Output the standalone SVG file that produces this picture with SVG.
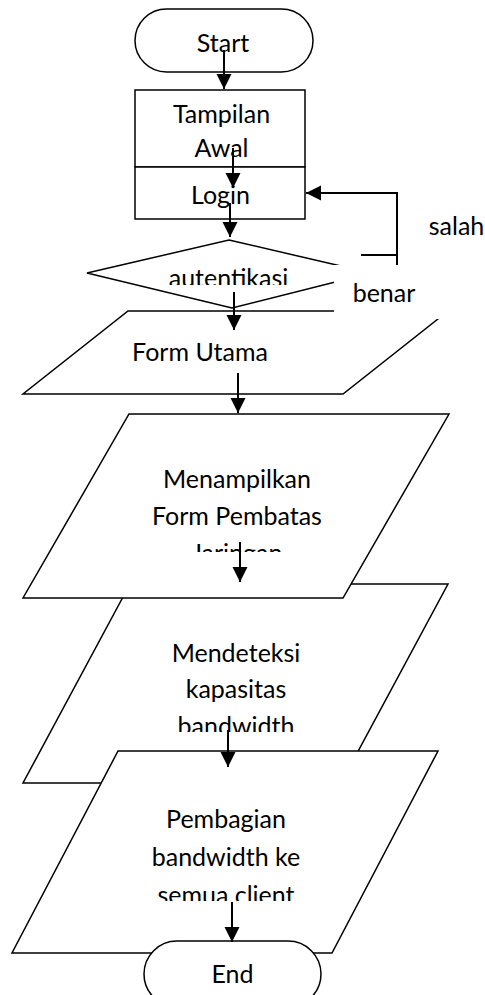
<svg xmlns="http://www.w3.org/2000/svg" width="485" height="995" viewBox="0 0 485 995">
<style>
.s{fill:#fff;stroke:#000;stroke-width:1.5;stroke-linejoin:miter}
.t{font-family:Lato,"Open Sans",sans-serif;font-size:25px;fill:#000;text-anchor:middle}
.c{fill:none;stroke:#000;stroke-width:2}
</style>
<defs>
<marker id="ah" markerUnits="userSpaceOnUse" markerWidth="16" markerHeight="16" refX="15" refY="7.5" orient="auto">
<path d="M0,0 L15,7.5 L0,15 z" fill="#000"/>
</marker>
<clipPath id="cl-aut"><rect x="87" y="240" width="284" height="45"/></clipPath>
<clipPath id="cl-men"><rect x="23" y="414" width="426" height="138"/></clipPath>
<clipPath id="cl-det"><rect x="23" y="584" width="426" height="148"/></clipPath>
<clipPath id="cl-pem"><rect x="12" y="751" width="426" height="150"/></clipPath>
</defs>
<g id="node-mendeteksi">
<path class="s" d="M130,584 L448,584 L341,783 L23,783 Z"/>
<g clip-path="url(#cl-det)">
<text class="t" x="236" y="662">Mendeteksi</text>
<text class="t" x="236" y="698">kapasitas</text>
<text class="t" x="236" y="735">bandwidth</text>
</g>
</g>
<g id="node-menampilkan">
<path class="s" d="M129,414 L449,414 L343,598 L23,598 Z"/>
<g clip-path="url(#cl-men)">
<text class="t" x="237" y="488">Menampilkan</text>
<text class="t" x="237" y="525">Form Pembatas</text>
<text class="t" x="237" y="562">Jaringan</text>
</g>
</g>
<g id="node-pembagian">
<path class="s" d="M118,751 L438,751 L332,953 L12,953 Z"/>
<g clip-path="url(#cl-pem)">
<text class="t" x="226" y="828">Pembagian</text>
<text class="t" x="226" y="866">bandwidth ke</text>
<text class="t" x="226" y="904">semua client</text>
</g>
</g>
<g id="node-end">
<rect class="s" x="144" y="941" width="177" height="66" rx="33" ry="33"/>
<text class="t" x="232.5" y="983">End</text>
</g>
<g id="node-start">
<rect class="s" x="135" y="9" width="178" height="63" rx="31.5" ry="31.5"/>
<text class="t" x="223" y="52">Start</text>
</g>
<g id="node-tampilan">
<rect class="s" x="135" y="90" width="170" height="77"/>
<text class="t" x="221.5" y="123">Tampilan</text>
<text class="t" x="221.5" y="157">Awal</text>
</g>
<g id="node-login">
<rect class="s" x="135" y="167" width="170" height="52"/>
<text class="t" x="220.5" y="204">Login</text>
</g>
<g id="node-autentikasi">
<path class="s" d="M229,240 L371,273 L232,308 L87,273 Z"/>
<text class="t" x="228.5" y="287" clip-path="url(#cl-aut)">autentikasi</text>
</g>
<g id="node-formutama">
<path class="s" d="M128,311 L448,311 L343,394 L23,394 Z"/>
<text class="t" x="200" y="361">Form Utama</text>
</g>
<g id="connectors">
<line class="c" x1="224" y1="50" x2="224" y2="89" marker-end="url(#ah)"/>
<line class="c" x1="233" y1="148" x2="233" y2="188" marker-end="url(#ah)"/>
<line class="c" x1="230" y1="203" x2="230" y2="237" marker-end="url(#ah)"/>
<line class="c" x1="234" y1="292" x2="234" y2="330" marker-end="url(#ah)"/>
<line class="c" x1="238" y1="373" x2="238" y2="413" marker-end="url(#ah)"/>
<line class="c" x1="240" y1="542" x2="240" y2="582" marker-end="url(#ah)"/>
<line class="c" x1="228" y1="730" x2="228" y2="767" marker-end="url(#ah)"/>
<line class="c" x1="232" y1="902" x2="232" y2="942" marker-end="url(#ah)"/>
<path class="c" d="M361,255 H397"/>
<path class="c" d="M397,272 V193 H306" marker-end="url(#ah)"/>
</g>
<g id="label-benar">
<rect x="334" y="265" width="140" height="54" fill="#fff"/>
<text class="t" x="384" y="302">benar</text>
</g>
<g id="label-salah">
<text class="t" x="456.5" y="235">salah</text>
</g>
</svg>
